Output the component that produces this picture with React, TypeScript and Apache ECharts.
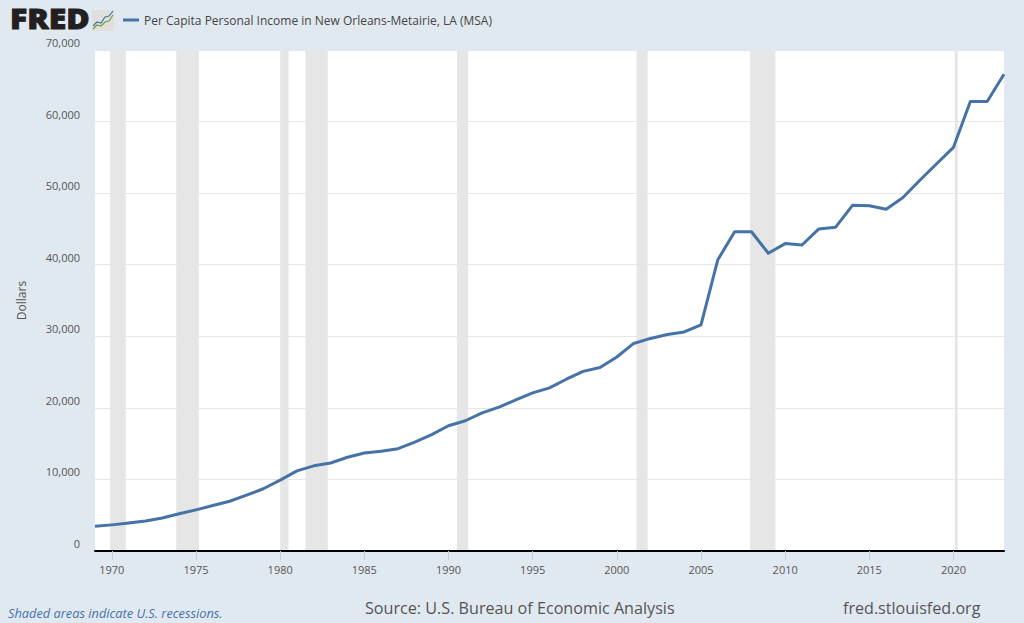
import React, { useEffect, useRef } from "react";
import * as echarts from "echarts";

const years = [1969,1970,1971,1972,1973,1974,1975,1976,1977,1978,1979,1980,1981,1982,1983,1984,1985,1986,1987,1988,1989,1990,1991,1992,1993,1994,1995,1996,1997,1998,1999,2000,2001,2002,2003,2004,2005,2006,2007,2008,2009,2010,2011,2012,2013,2014,2015,2016,2017,2018,2019,2020,2021,2022,2023];
const income = [3450,3650,3900,4200,4600,5200,5750,6350,6950,7800,8700,9900,11200,11900,12300,13100,13700,13950,14300,15200,16250,17500,18200,19300,20100,21100,22100,22800,24000,25100,25650,27100,29000,29700,30250,30600,31600,40700,44600,44600,41600,42950,42750,45000,45250,48300,48250,47750,49400,51800,54100,56400,62800,62800,66600];
const recessions: [number, number][] = [[1969.9,1970.83],[1973.83,1975.17],[1980,1980.5],[1981.5,1982.83],[1990.5,1991.17],[2001.17,2001.83],[2007.92,2009.42],[2020.08,2020.25]];
const xTicks = [1970,1975,1980,1985,1990,1995,2000,2005,2010,2015,2020];
const seriesName = "Per Capita Personal Income in New Orleans-Metairie, LA (MSA)";
const FONT = "'Open Sans', sans-serif";

export default function App() {
  const ref = useRef<HTMLDivElement>(null);
  useEffect(() => {
    const chart = echarts.init(ref.current!, undefined, { renderer: "svg" });
    chart.setOption({
      animation: false,
      backgroundColor: "#e1e9f0",
      textStyle: { fontFamily: FONT },
      grid: { left: 95, right: 20, top: 50, bottom: 72, containLabel: false, backgroundColor: "#fff", show: true, borderWidth: 0 },
      legend: {
        left: 118, top: 9, itemWidth: 16, itemHeight: 3, itemGap: 5, icon: "rect",
        data: [seriesName],
        textStyle: { color: "#444", fontSize: 12, fontFamily: FONT, width: 352 },
      },
      xAxis: {
        type: "value", min: 1969, max: 2023, interval: 1, z: 10,
        splitLine: { show: false },
        axisLine: { show: true, onZero: false, lineStyle: { color: "#000", width: 2 } },
        axisTick: { show: true, length: 9, customValues: xTicks, lineStyle: { color: "#c0d0e0", width: 1 } },
        axisLabel: { color: "#555", fontSize: 11, margin: 13, fontFamily: FONT, customValues: xTicks, formatter: (v: number) => String(v), hideOverlap: false },
      },
      yAxis: {
        type: "value", min: 0, max: 70000, interval: 10000,
        name: "Dollars", nameLocation: "middle", nameGap: 68, nameRotate: 90,
        nameTextStyle: { color: "#555", fontSize: 12, fontFamily: FONT },
        axisLine: { show: false }, axisTick: { show: false },
        splitLine: { lineStyle: { color: "#e6e6e6", width: 1 } },
        axisLabel: {
          color: "#555", fontSize: 11, margin: 15, fontFamily: FONT, verticalAlign: "bottom", lineHeight: 15,
          formatter: (v: number) => v.toLocaleString("en-US"),
        },
      },
      series: [{
        name: seriesName, type: "line", showSymbol: false, symbol: "none", clip: true,
        data: years.map((y, i) => [y, income[i]]),
        lineStyle: { color: "#4572a7", width: 3, join: "round" },
        itemStyle: { color: "#4572a7" },
        markArea: {
          silent: true, itemStyle: { color: "#e6e6e6", opacity: 1 }, z: 1,
          data: recessions.map(([a, b]) => [{ xAxis: a }, { xAxis: b }]),
        },
      }],
      graphic: [
        { type: "text", x: 10, y: 4, scaleX: 1.14, style: { text: "FRED", font: "800 28px 'Open Sans', sans-serif", fill: "#231f20", stroke: "#231f20", lineWidth: 0.9 } },
        { type: "rect", shape: { x: 92, y: 10, width: 22, height: 21, r: 2 }, style: { fill: "#dfe0dc" } },
        { type: "polyline", shape: { points: [[93, 26], [97, 22], [101, 23], [105, 17], [109, 16], [113, 11]] }, style: { stroke: "#4572a7", lineWidth: 1.2, fill: "none" } },
        { type: "polyline", shape: { points: [[93, 29], [97, 25], [101, 26], [105, 22], [109, 21], [113, 15]] }, style: { stroke: "#6f9a45", lineWidth: 1.2, fill: "none" } },
        { type: "text", x: 8, y: 606, style: { text: "Shaded areas indicate U.S. recessions.", font: "italic 12.8px 'Open Sans', sans-serif", fill: "#4572a7" } },
        { type: "text", x: 365, y: 600, style: { text: "Source: U.S. Bureau of Economic Analysis", font: "16.15px 'Open Sans', sans-serif", fill: "#555" } },
        { type: "text", x: 843, y: 600, style: { text: "fred.stlouisfed.org", font: "16.1px 'Open Sans', sans-serif", fill: "#555" } },
      ],
    });
    return () => chart.dispose();
  }, []);
  return <div ref={ref} style={{ position: "fixed", left: 0, top: 0, width: 1024, height: 623 }} />;
}
